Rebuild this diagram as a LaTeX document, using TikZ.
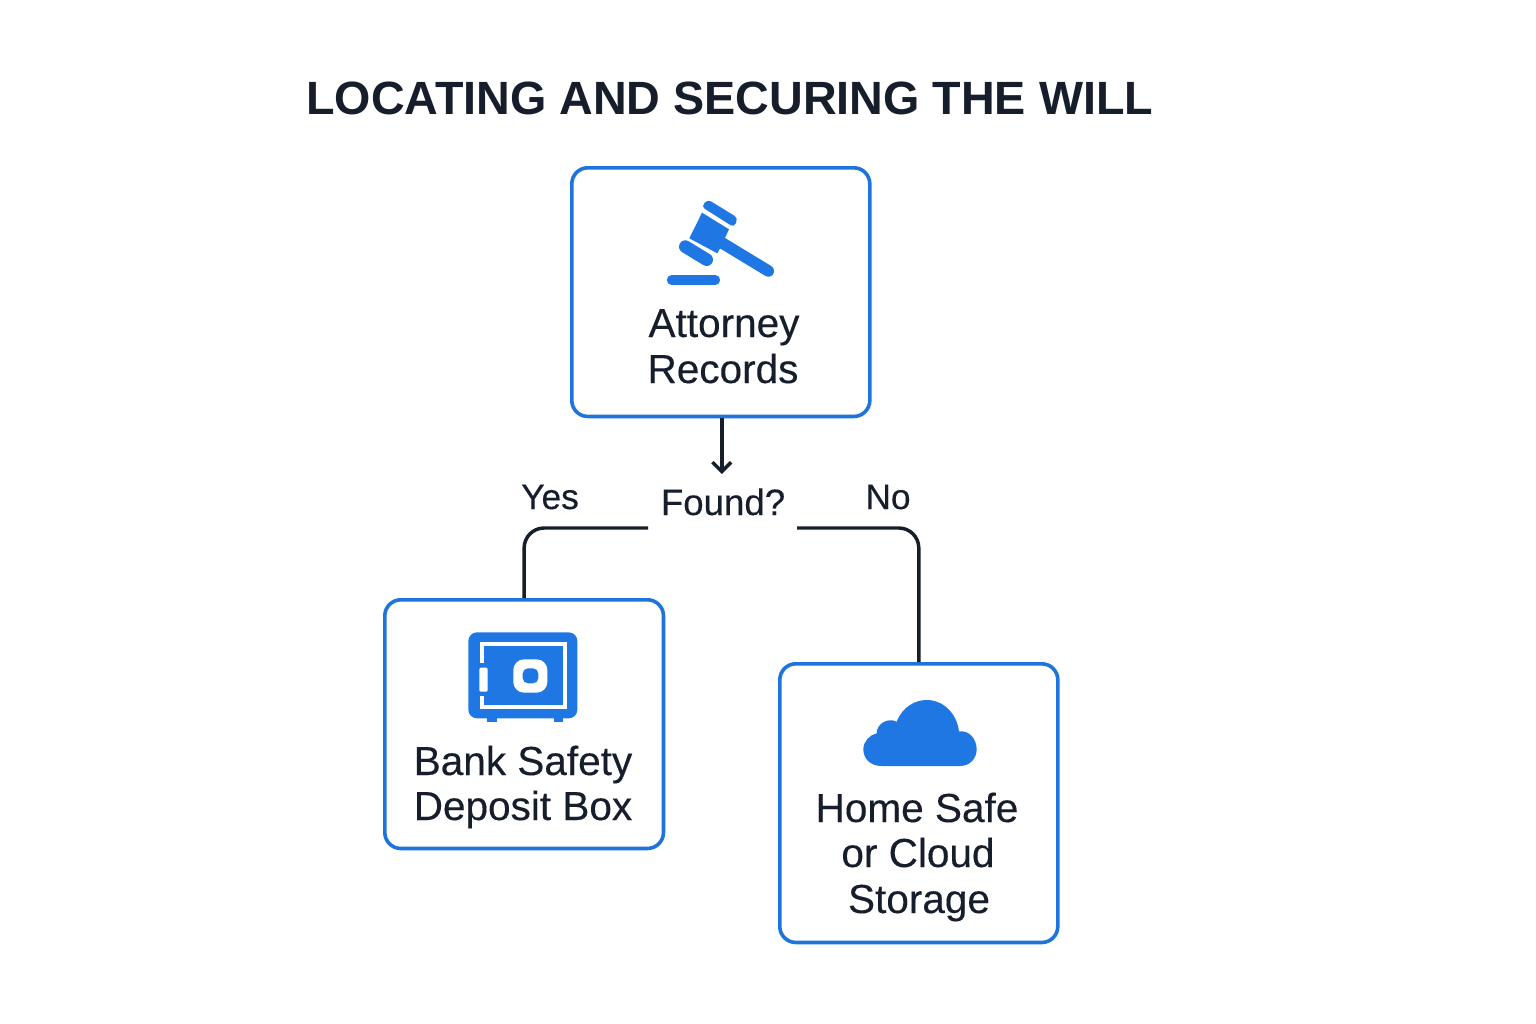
\documentclass[tikz,border=0pt]{standalone}
\usepackage{fontspec}
\setmainfont{Liberation Sans}[FakeBold=0.25]
\newfontfamily\titlefont{Liberation Sans}
\usetikzlibrary{arrows.meta}
\definecolor{ink}{HTML}{161E2C}
\definecolor{blu}{HTML}{1F77E4}
\definecolor{bord}{HTML}{1F74DC}
\tikzset{
 box/.style={draw=bord,line width=2.7pt,rounded corners=12pt,fill=white,inner sep=0pt,anchor=north west},
 lab/.style={text=ink,font=\fontsize{30.4}{36}\selectfont,anchor=base,inner sep=0pt},
 small/.style={text=ink,font=\fontsize{26.5}{30}\selectfont,anchor=base,inner sep=0pt},
 conn/.style={draw=ink,line width=2.6pt},
 ico/.style={x=.25pt,y=-.25pt},
}
\begin{document}
\begin{tikzpicture}[x=.75pt,y=-.75pt]
\useasboundingbox (0,0) rectangle (1536,1024);
\fill[white] (0,0) rectangle (1536,1024);
\node[text=ink,font={\titlefont\bfseries\fontsize{35}{40}\selectfont},anchor=base west,inner sep=0pt] (title) at (306,115) {LOCATING AND SECURING THE WILL};
% boxes
\node[box,minimum width=223.5pt,minimum height=186.5pt] (att) at (570,166) {};
\node[box,minimum width=209pt,minimum height=186.5pt] (bank) at (383,598) {};
\node[box,minimum width=208.5pt,minimum height=209pt] (home) at (778,662) {};
% labels
\node[lab] (a1) at (724,337) {Attorney};
\node[lab] (a2) at (723,383) {Records};
\node[lab] (b1) at (523,775) {Bank Safety};
\node[lab] (b2) at (523,820) {Deposit Box};
\node[lab] (h1) at (917,822) {Home Safe};
\node[lab] (h2) at (918,867) {or Cloud};
\node[lab] (h3) at (919,913) {Storage};
\node[small,font=\fontsize{27.5}{30}\selectfont] (found) at (723,515) {Found?};
\node[small] (yes) at (550,509) {Yes};
\node[small] (no) at (888,509) {No};
% connectors
\coordinate (ftop) at (722,474);
\coordinate (yl) at (648,528);
\coordinate (nl) at (797,528);
\draw[conn,-{Straight Barb[length=7pt,width=14pt,line width=2.6pt]}] ([xshift=.75pt]att.south) -- ([xshift=.75pt]att.south |- ftop);
\draw[conn,rounded corners=15pt] (yl) -- (yl -| bank.north) -- (bank.north);
\draw[conn,rounded corners=15pt] (nl) -- (nl -| home.north) -- (home.north);
% gavel
\begin{scope}[shift={(640,190)},ico]
 \draw[blu,line width=8.6pt,line cap=round] (245,158) -- (385,243);
 \fill[blu] (186,68) -- (267,118) -- (240,175) -- (232,190) -- (148,145) -- cycle;
 \fill[blu,rounded corners=3pt] (184,50) -- (203,28) -- (294,84) -- (282,112) -- cycle;
 \draw[blu,line width=9.5pt,line cap=round] (136,170) -- (200,209);
 \draw[blu,line width=7.2pt,line cap=round] (95,270) -- (226,270);
\end{scope}
% safe
\begin{scope}[shift={(450,620)},ico]
 \fill[blu] (112,290) rectangle (140,307);
 \fill[blu] (312,290) rectangle (340,307);
 \fill[blu,rounded corners=6.5pt] (55,37) rectangle (382,295);
 \draw[white,line width=3pt] (95,130) -- (95,72) -- (345,72) -- (345,262) -- (95,262) -- (95,228);
 \fill[white,rounded corners=1pt] (88,143) rectangle (113,215);
 \fill[white,rounded corners=8pt] (190,118) rectangle (292,218);
 \fill[blu,rounded corners=4pt] (218,145) rectangle (265,190);
\end{scope}
% cloud
\begin{scope}[shift={(850,690)},ico]
 \fill[blu] (95,228) .. controls (60,228) and (40,205) .. (40,178)
   .. controls (40,155) and (58,135) .. (80,130)
   .. controls (80,100) and (115,82) .. (140,95)
   .. controls (158,50) and (195,30) .. (230,30)
   .. controls (280,30) and (320,70) .. (327,124)
   .. controls (358,120) and (380,148) .. (380,178)
   .. controls (380,205) and (360,228) .. (330,228) -- cycle;
\end{scope}
\end{tikzpicture}
\end{document}
